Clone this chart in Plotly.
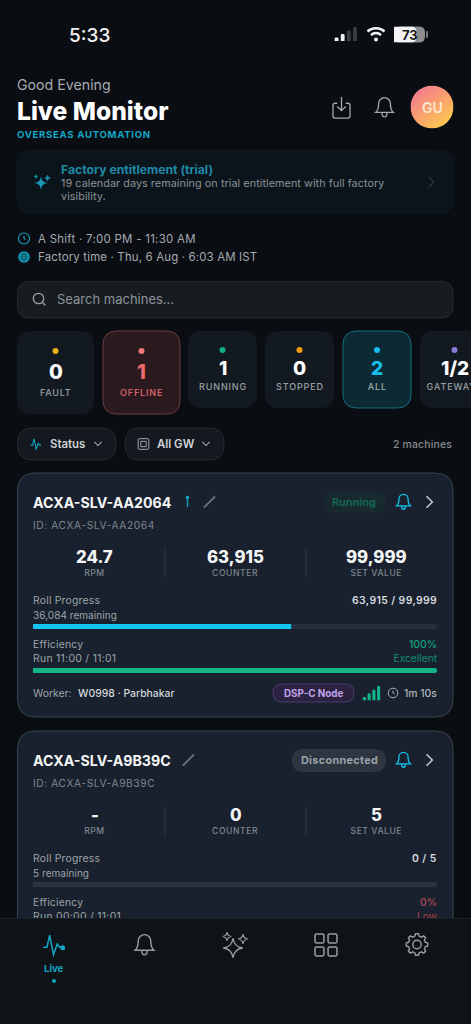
import json
import math
import re
import base64
import plotly.graph_objects as go

# values
kpi_labels = ["FAULT", "OFFLINE", "RUNNING", "STOPPED", "ALL", "GATEWAYS"]
kpi_values = ["0", "1", "1", "0", "2", "1/2"]

card_names = ["ACXA-SLV-AA2064", "ACXA-SLV-A9B39C"]
card_rpm = ["24.7", "-"]
counter_values = [63915, 0]
set_values = [99999, 5]
efficiency_pct = [100, 0]
run_labels = ["Run 11:00 / 11:01", "Run 00:00 / 11:01"]
eff_labels = ["Excellent", "Low"]
status_labels = ["Running", "Disconnected"]

battery_pct = [73]
phone_signal = [1, 2, 3, 4]
node_signal = [1, 2, 3, 4]

W, H = 471, 1024
FONT = "Inter"
BG = "#0a0e13"
TEAL = "#14a5c5"
CYAN = "#12c5ee"
GREEN = "#13b587"

shapes = []
annotations = []
spacing = {}  # text -> letter spacing in px, applied once the page is drawn


def txt(x, y, s, size, color, weight=400, anchor="left", track=0):
    # annotations sit 1px inside their anchor
    x = x - 1 if anchor == "left" else x + 1 if anchor == "right" else x
    if track:
        spacing[s] = track
    annotations.append(dict(
        x=x, y=y, xref="x", yref="y", text=s, showarrow=False,
        xanchor=anchor, yanchor="middle", align=anchor, borderpad=0,
        font=dict(family=FONT, size=size, color=color, weight=weight),
    ))


def rrect(x0, y0, x1, y1, r, fill, line=None, lw=1):
    p = (f"M{x0+r},{y0}L{x1-r},{y0}Q{x1},{y0} {x1},{y0+r}L{x1},{y1-r}Q{x1},{y1} {x1-r},{y1}"
         f"L{x0+r},{y1}Q{x0},{y1} {x0},{y1-r}L{x0},{y0+r}Q{x0},{y0} {x0+r},{y0}Z")
    shapes.append(dict(type="path", path=p, xref="x", yref="y", fillcolor=fill, layer="below",
                       line=dict(color=line or fill, width=lw if line else 0)))


def circle(cx, cy, r, fill=None, line=None, lw=1.2, layer="below"):
    shapes.append(dict(type="circle", x0=cx-r, x1=cx+r, y0=cy-r, y1=cy+r, xref="x", yref="y",
                       layer=layer, fillcolor=fill or "rgba(0,0,0,0)",
                       line=dict(color=line or "rgba(0,0,0,0)", width=lw if line else 0)))


def icon(path, cx, cy, size, color, lw=1.4, fill=None, layer="below"):
    # path is drawn in a 24x24 box, absolute commands only
    k = size / 24
    nums = {"i": 0}

    def conv(m):
        v = float(m.group(0))
        i = nums["i"]
        nums["i"] += 1
        return f"{(cx + (v-12)*k if i % 2 == 0 else cy + (v-12)*k):.2f}"

    p = re.sub(r"-?\d+\.?\d*", conv, path)
    shapes.append(dict(type="path", path=p, xref="x", yref="y", layer=layer,
                       fillcolor=fill or "rgba(0,0,0,0)",
                       line=dict(color=color, width=lw)))


BELL = ("M6 8C6 4.7 8.7 2 12 2C15.3 2 18 4.7 18 8C18 14.5 21 17 21 17L3 17C3 17 6 14.5 6 8Z"
        "M9.5 17.5C9.5 20.5 10.5 21.5 12 21.5C13.5 21.5 14.5 20.5 14.5 17.5")
STAR = "M12 3C12.6 8 16 11.4 21 12C16 12.6 12.6 16 12 21C11.4 16 8 12.6 3 12C8 11.4 11.4 8 12 3Z"
PULSE = "M1 14L4.5 14L7 3L10.5 21L14 11L16 14L19 14"
CLOCK_HANDS = "M12 6.5L12 12L15.5 14"


def chevron_right(x, y, s, color, lw=1.5):
    icon("M9 5L16 12L9 19", x, y, s, color, lw)


def chevron_down(x, y, s, color, lw=1.3):
    icon("M5 9L12 16L19 9", x, y, s, color, lw)


def clock(x, y, r, color, lw=1.1):
    circle(x, y, r, line=color, lw=lw)
    icon(CLOCK_HANDS, x, y, r * 2.1, color, lw)


def bell(x, y, s, color, lw=1.4):
    icon(BELL, x, y, s, color, lw)


def pencil(x, y, color):
    icon("M4 20L20 4", x, y, 17, color, 1.8)


# ---- background, status bar
rrect(0, 0, W, 918, 0, BG)
txt(69, 35, "5:33", 19, "#f2f2f2", 500)
rrect(394, 26.5, 425, 42.5, 6, "#8c8c8c")
rrect(426, 31, 428, 38, 1, "#777777")
icon("M3.5 9.5C8 5 16 5 20.5 9.5", 376, 34, 24, "#f4f4f4", 2.5)
icon("M7 13.2C10 10.4 14 10.4 17 13.2", 376, 34, 24, "#f4f4f4", 2.5)
circle(376, 39.6, 2, fill="#f4f4f4")
txt(409.5, 34.5, "73", 13, "#14171a", 700, "center")

# ---- header
txt(17, 85, "Good Evening", 14.2, "#a6aaaf")
txt(17, 111, "Live Monitor", 24.6, "#ffffff", 800)
txt(17, 134.5, "OVERSEAS AUTOMATION", 9.6, TEAL, 700, track=0.7)
icon("M8 8L6 8C4.9 8 4 8.9 4 10L4 20C4 21.1 4.9 22 6 22L18 22C19.1 22 20 21.1 20 20L20 10C20 8.9 19.1 8 18 8L16 8"
     "M12 2L12 15M8 11L12 15L16 11", 341.5, 107.5, 25.5, "#a5a9ae", 1.3)
bell(384.5, 107.5, 23.5, "#a5a9ae", 1.3)
avatar = ("<svg xmlns='http://www.w3.org/2000/svg' width='86' height='86'>"
          "<defs><linearGradient id='g' x1='0.15' y1='0.1' x2='0.8' y2='0.95'>"
          "<stop offset='0' stop-color='#f47c8e'/><stop offset='1' stop-color='#fdc84e'/>"
          "</linearGradient></defs><circle cx='43' cy='43' r='43' fill='url(#g)'/></svg>")
avatar_src = "data:image/svg+xml;base64," + base64.b64encode(avatar.encode()).decode()
txt(432, 107.5, "GU", 14, "#fbe6cf", 600, "center")

# ---- trial banner
rrect(17.5, 150.5, 453, 213, 14, "#0c141b", "#111b23")
icon(STAR, 41, 183, 15, "#1b9ab5", 0.5, fill="#1b9ab5")
icon(STAR, 47.5, 178, 8, "#1b9ab5", 0.5, fill="#1b9ab5")
icon(STAR, 36, 176.5, 5, "#1b9ab5", 0.5, fill="#1b9ab5")
txt(61, 169.5, "Factory entitlement (trial)", 12.2, "#1f88a5", 700)
txt(61, 183.5, "19 calendar days remaining on trial entitlement with full factory", 10.8, "#8b9197", track=0.06)
txt(61, 196.5, "visibility.", 10.8, "#8b9197", track=0.06)
chevron_right(431, 182, 17, "#1c3842", 1.3)

# ---- shift lines
clock(24, 238.5, 5.5, TEAL)
txt(38, 238.5, "A Shift · 7:00 PM - 11:30 AM", 11.4, "#a6abb0", track=0.3)
circle(24, 257, 5.8, fill=TEAL)
icon("M2 12L22 12M12 2C17 6 17 18 12 22C7 18 7 6 12 2ZM4 7L20 7M4 17L20 17", 24, 257, 11.6, "#0a2e3a", 0.7)
txt(38, 257, "Factory time · Thu, 6 Aug · 6:03 AM IST", 11.4, "#a6abb0", track=0.18)

# ---- search
rrect(17.5, 281.5, 453, 318, 12, "#171c21", "#262c31")
circle(38.5, 298.5, 5.2, line="#9a9fa4", lw=1.3)
icon("M17 17L22 22", 39.5, 299.5, 14, "#9a9fa4", 1.3)
txt(57, 299, "Search machines...", 13, "#8d9297")

# ---- kpi tiles
tile_box = [(17, 94), (103, 180), (188, 257), (265, 334), (343, 411), (420, 489)]
tile_fill = ["#131920", "#2a1a1e", "#131920", "#131920", "#0c2a33", "#131920"]
tile_line = [None, "#6b3d42", None, None, "#136a7c", None]
dot_col = ["#eab018", "#f07878", "#10b27f", "#f59e0b", "#16c0ee", "#8b7bdc"]
val_col = ["#ffffff", "#ef6a6a", "#ffffff", "#ffffff", "#16c0ee", "#ffffff"]
lab_col = ["#9aa0a5", "#cf5f68", "#9aa0a5", "#9aa0a5", "#a5adb2", "#9aa0a5"]
for i, lab in enumerate(kpi_labels):
    x0, x1 = tile_box[i]
    big = i < 2
    y1 = 414 if big else 408
    cx = (x0 + x1) / 2
    rrect(x0, 331, x1, y1, 14, tile_fill[i], tile_line[i])
    circle(cx, 351 if big else 350, 3, fill=dot_col[i])
    txt(cx, 371.5 if big else 368.5, kpi_values[i], 20 if big else 19, val_col[i], 800, "center")
    txt(cx, 392 if big else 386, lab, 9, lab_col[i], 600 if i == 1 else 500, "center", track=0.85)

# ---- filters
rrect(17.5, 428, 116, 460, 15, "#14191f", "#262c31")
icon(PULSE, 37, 444, 14, TEAL, 1.1)
txt(49.5, 444, "Status", 11.4, "#cfd3d7", 600)
chevron_down(98, 443.5, 12.5, "#a4a8ad", 1.1)
rrect(125, 428, 224, 460, 15, "#14191f", "#262c31")
icon("M6 4L18 4Q20 4 20 6L20 18Q20 20 18 20L6 20Q4 20 4 18L4 6Q4 4 6 4Z"
     "M8 8L16 8L16 16L8 16Z", 143.5, 444, 16, "#a4a8ad", 1)
txt(157, 444, "All GW", 11.4, "#cfd3d7", 600)
chevron_down(206, 443.5, 12.5, "#a4a8ad", 1.1)
txt(453, 444, "2 machines", 10.4, "#868b90", 500, "right", track=0.2)

# ---- machine cards
card_top = [473, 731]
CARD_FILL = "#18212d"
MUTED = "#7f8790"
SOFT = "#9ea4ab"
clip_x, clip_y, clip_text, clip_col, clip_pos, clip_size = [], [], [], [], [], []

for c, name in enumerate(card_names):
    t = card_top[c]
    y_bot = 717 if c == 0 else 1000
    rrect(17.5, t, 453, y_bot, 18, CARD_FILL, "#38434e")
    txt(33, t + 29, name, 14.2, "#f4f5f6", 700)
    if c == 0:
        icon("M12 7L12 22", 187.5, 501.5, 13, TEAL, 1.3)
        circle(187.5, 497.5, 1.8, fill=TEAL)
        pencil(209.5, 502, "#6e757c")
        rrect(324, 491, 386, 513, 11, "#182a2f")
        txt(354, 502, status_labels[c], 10.8, "#136553", 700, "center")
    else:
        pencil(188.5, t + 29, "#6e757c")
        rrect(292, t + 18, 386, t + 41, 11.5, "#2c3540")
        txt(339, t + 29, status_labels[c], 10.8, "#9aa2aa", 700, "center", track=0.35)
    bell(403.5, t + 29, 18.3, CYAN, 1.3)
    chevron_right(429, t + 29, 20, "#c8ccd0", 1.5)
    txt(33, t + 52, "ID: " + name, 10.2, MUTED, track=0.6)

    stats = [card_rpm[c], f"{counter_values[c]:,}", f"{set_values[c]:,}"]
    for x, val, lab in zip([94.5, 235.5, 376], stats, ["RPM", "COUNTER", "SET VALUE"]):
        txt(x, t + 84, val, 16.8, "#f4f5f6", 800, "center")
        txt(x, t + 100, lab, 8.6, MUTED, 500, "center", track=0.55)
    for x in [165, 306]:
        shapes.append(dict(type="line", x0=x, x1=x, y0=t + 75, y1=t + 105, xref="x", yref="y",
                           layer="below", line=dict(color="#2c3642", width=1)))

    txt(33, t + 127, "Roll Progress", 10.4, SOFT, track=0.2)
    txt(437, t + 127, f"{counter_values[c]:,} / {set_values[c]:,}", 10.4, "#d8dce0", 600, "right", track=0.4)
    txt(33, t + 142, f"{set_values[c]-counter_values[c]:,} remaining", 10, SOFT, track=0.05)
    eff_col = "#14a37f" if c == 0 else "#b34a5c"
    txt(33, t + 171.5, "Efficiency", 10.4, SOFT, track=0.2)
    txt(437, t + 171.5, f"{efficiency_pct[c]}%", 10.4, eff_col, 500, "right")
    clip_x += [33, 437]
    clip_y += [t + 186.5, t + 186.5]
    clip_text += [run_labels[c], eff_labels[c]]
    clip_col += [SOFT, "#12906f" if c == 0 else "#a8404f"]
    clip_pos += ["middle right", "middle left"]
    clip_size += [10.4, 10.2]

# worker row of first card
txt(33, 693, "Worker:", 10.4, SOFT)
txt(78, 693, "W0998 · Parbhakar", 10.4, "#d4d8dc", 500)
rrect(273, 684, 354, 702, 9, "#2b2240", "#4a3a70")
txt(313.5, 693, "DSP-C Node", 9.8, "#c2a4ec", 700, "center")
clock(393, 693, 4.8, "#a9aeb3", 1)
txt(437, 693, "1m 10s", 10.4, "#b0b5ba", 500, "right")

# ---- bottom navigation
shapes.append(dict(type="rect", x0=0, x1=W, y0=918.5, y1=H, xref="x", yref="y", layer="above",
                   fillcolor="#0e1318", line=dict(width=0)))
shapes.append(dict(type="line", x0=0, x1=W, y0=918.5, y1=918.5, xref="x", yref="y", layer="above",
                   line=dict(color="#1c2127", width=1)))

NAV = "#9a9ea3"
icon(PULSE, 55.1, 945, 26, TEAL, 1.5, layer="above")
circle(62.7, 947.7, 2.5, fill=TEAL, layer="above")
txt(53.5, 968, "Live", 9.6, TEAL, 700, "center")
circle(54, 981, 2, fill=TEAL, layer="above")
icon(BELL, 144.5, 945, 25, NAV, 1.4, layer="above")
icon(STAR, 233, 948, 26, NAV, 1.4, layer="above")
icon(STAR, 227, 936.5, 11.5, NAV, 1.1, layer="above")
icon(STAR, 243, 939, 13, NAV, 1.1, layer="above")
GRID = ("M5 4L9.5 4Q10.5 4 10.5 5L10.5 9.5Q10.5 10.5 9.5 10.5L5 10.5Q4 10.5 4 9.5L4 5Q4 4 5 4Z"
        "M14.5 4L19 4Q20 4 20 5L20 9.5Q20 10.5 19 10.5L14.5 10.5Q13.5 10.5 13.5 9.5L13.5 5Q13.5 4 14.5 4Z"
        "M14.5 13.5L19 13.5Q20 13.5 20 14.5L20 19Q20 20 19 20L14.5 20Q13.5 20 13.5 19L13.5 14.5Q13.5 13.5 14.5 13.5Z"
        "M5 13.5L9.5 13.5Q10.5 13.5 10.5 14.5L10.5 19Q10.5 20 9.5 20L5 20Q4 20 4 19L4 14.5Q4 13.5 5 13.5Z")
icon(GRID, 326, 945, 33, NAV, 1.5, layer="above")
gear = []
for i in range(48):
    a = i * 2 * math.pi / 48
    r = 9.6 if (i % 6) in (0, 1, 5) else 7.6
    gear.append(f"{'M' if i == 0 else 'L'}{12 + r*math.cos(a):.2f} {12 + r*math.sin(a):.2f}")
icon("".join(gear) + "Z", 417, 944.5, 27, NAV, 1.4, layer="above")
circle(417, 944.5, 4.2, line=NAV, lw=1.4, layer="above")

# ---- figure
fig = go.Figure()
fig.add_trace(go.Scatter(x=[0, W], y=[0, H], mode="markers", marker=dict(opacity=0), hoverinfo="skip"))

axes = {}
n_axes = [1]


def new_axes(px, py, xr, yr):
    n_axes[0] += 1
    n = n_axes[0]
    axes[f"xaxis{n}"] = dict(domain=[px[0] / W, px[1] / W], range=xr, visible=False, fixedrange=True, anchor=f"y{n}")
    axes[f"yaxis{n}"] = dict(domain=[1 - py[1] / H, 1 - py[0] / H], range=yr, visible=False, fixedrange=True, anchor=f"x{n}")
    return f"x{n}", f"y{n}"


def progress(px, py, value, total, color, track):
    xa, ya = new_axes(px, py, [0, total], [-0.5, 0.5])
    fig.add_trace(go.Bar(x=[total], y=[0], orientation="h", width=1, xaxis=xa, yaxis=ya,
                         marker=dict(color=track, line=dict(width=0), cornerradius=2.5), hoverinfo="skip"))
    fig.add_trace(go.Bar(x=[value], y=[0], orientation="h", width=1, xaxis=xa, yaxis=ya,
                         marker=dict(color=color, line=dict(width=0), cornerradius=2.5), hoverinfo="skip"))


# card progress bars
progress((33, 437), (624, 629), counter_values[0], set_values[0], CYAN, "#262f3b")
progress((33, 437), (668, 673), efficiency_pct[0], 100, GREEN, "#262f3b")
progress((33, 437), (882, 887), counter_values[1], set_values[1], CYAN, "#2a3440")

# battery level
xa, ya = new_axes((394, 425), (26.5, 42.5), [0, 100], [-0.5, 0.5])
fig.add_trace(go.Bar(x=battery_pct, y=[0], orientation="h", width=1, xaxis=xa, yaxis=ya,
                     marker=dict(color="#f4f4f4", line=dict(width=0), cornerradius=5), hoverinfo="skip"))

# phone signal, two bars lit
xa, ya = new_axes((333.5, 358), (27, 41), [-0.5, 3.5], [0, 4])
fig.add_trace(go.Bar(x=[0, 1, 2, 3], y=phone_signal, width=0.62, xaxis=xa, yaxis=ya,
                     marker=dict(color=["#f4f4f4", "#f4f4f4", "#3a3d40", "#3a3d40"], line=dict(width=0), cornerradius=1),
                     hoverinfo="skip"))

# node signal
xa, ya = new_axes((362, 381), (686, 700.5), [-0.5, 3.5], [0, 4])
fig.add_trace(go.Bar(x=[0, 1, 2, 3], y=node_signal, width=0.66, xaxis=xa, yaxis=ya,
                     marker=dict(color=GREEN, line=dict(width=0), cornerradius=1), hoverinfo="skip"))

# text that slides under the nav bar, kept in a clipped axis
xa, ya = new_axes((0, W), (0, 918), [0, W], [918, 0])
for i in range(len(clip_text)):
    fig.add_trace(go.Scatter(x=[clip_x[i]], y=[clip_y[i]], text=[clip_text[i]], mode="text", xaxis=xa, yaxis=ya,
                             textposition=clip_pos[i],
                             textfont=dict(family=FONT, size=clip_size[i], color=clip_col[i]),
                             hoverinfo="skip", cliponaxis=True))
    if clip_pos[i] == "middle right":
        spacing[clip_text[i]] = 0.3

fig.update_layout(
    width=W,
    height=H,
    margin=dict(l=0, r=0, t=0, b=0),
    paper_bgcolor=BG,
    plot_bgcolor="rgba(0,0,0,0)",
    showlegend=False,
    barmode="overlay",
    xaxis=dict(domain=[0, 1], range=[0, W], visible=False, fixedrange=True),
    yaxis=dict(domain=[0, 1], range=[H, 0], visible=False, fixedrange=True),
    shapes=shapes,
    annotations=annotations,
    images=[dict(source=avatar_src, xref="x", yref="y", x=410.5, y=85.5, sizex=43, sizey=43,
                 xanchor="left", yanchor="top", layer="below", sizing="stretch")],
    **axes,
)

post = """
document.body.style.margin = '0';
document.body.style.background = '%s';
document.body.style.overflow = 'hidden';
var tracking = %s;
document.querySelectorAll('.annotation-text, .textpoint text').forEach(function (t) {
    var s = tracking[t.textContent];
    if (s) { t.style.letterSpacing = s + 'px'; }
});
""" % (BG, json.dumps(spacing, ensure_ascii=False))

fig.write_html("out.html", config=dict(displayModeBar=False), post_script=post)
